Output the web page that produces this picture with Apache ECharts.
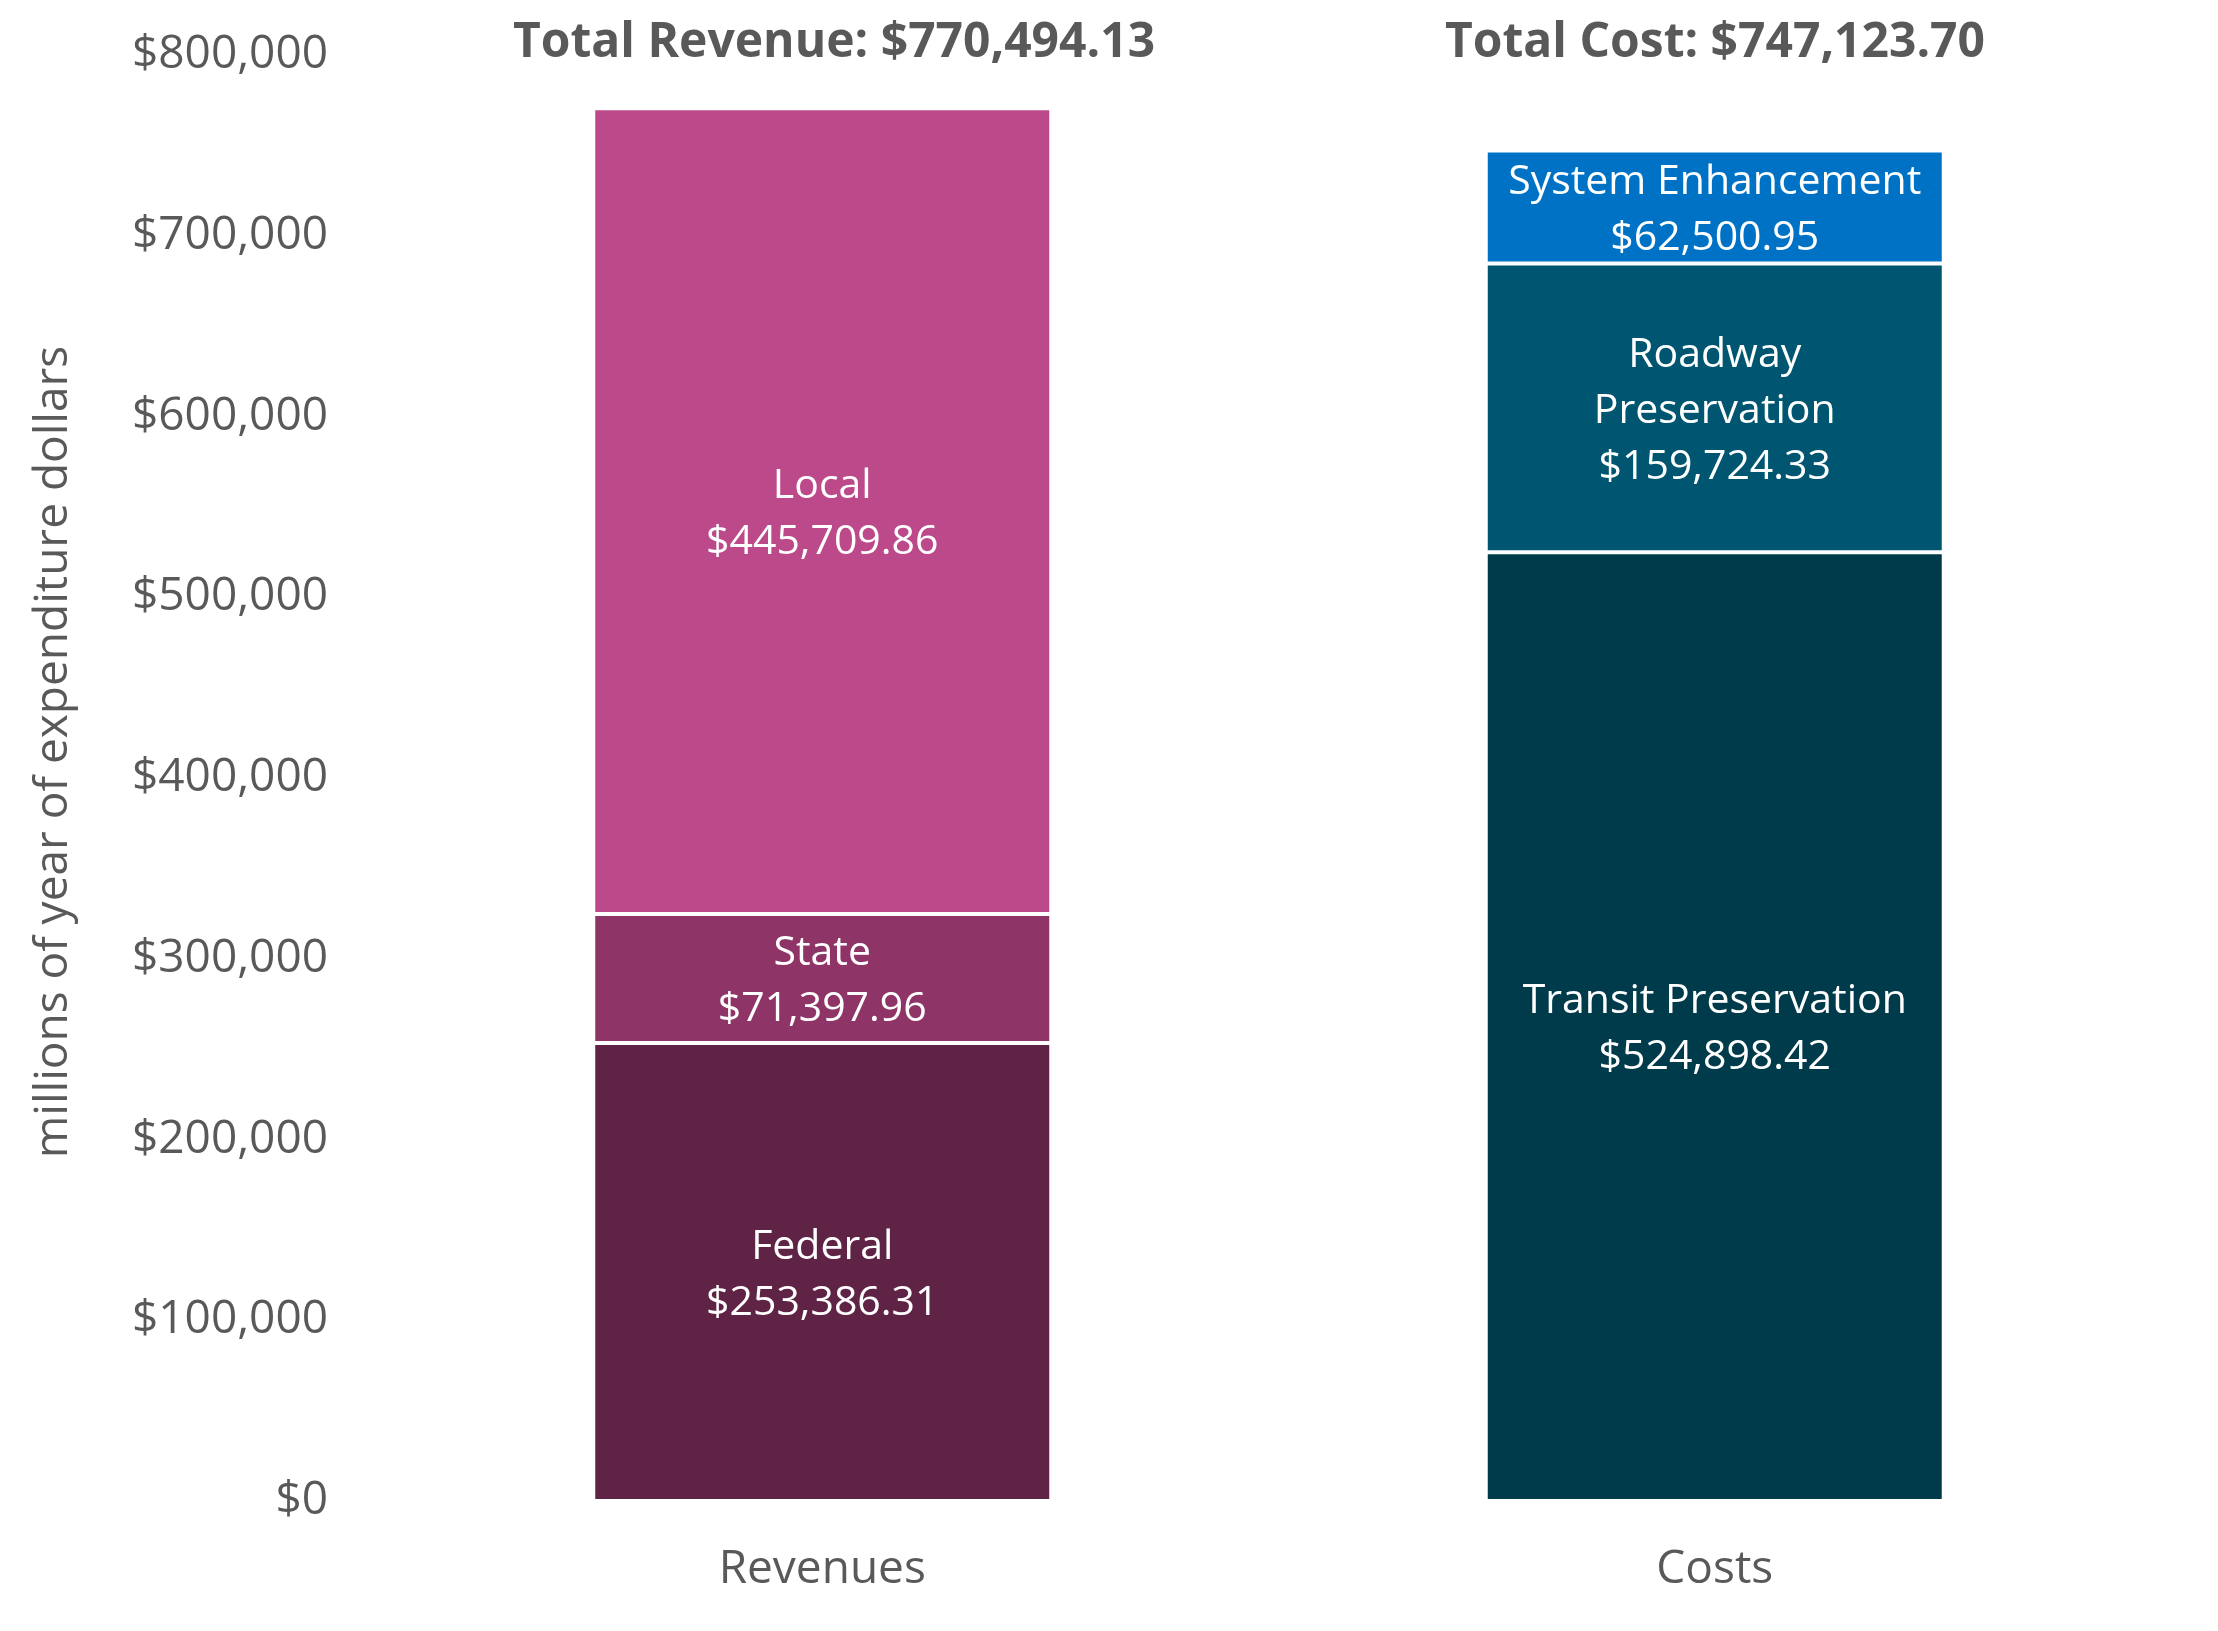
<!DOCTYPE html>
<html>
<head>
<meta charset="utf-8">
<title>Revenues and Costs</title>
<script src="https://cdn.jsdelivr.net/npm/echarts@6/dist/echarts.min.js"></script>
<style>
  html, body { margin: 0; padding: 0; background: #fff; }
  #chart { width: 2218px; height: 1631px; }
</style>
</head>
<body>
<div id="chart"></div>
<script>
// categories on the x axis
var categories = ['Revenues', 'Costs'];

// stacked segments, bottom to top
var federal = [253386.31, '-'];
var state = [71397.96, '-'];
var local = [445709.86, '-'];
var transitPreservation = ['-', 524898.42];
var roadwayPreservation = ['-', 159724.33];
var systemEnhancement = ['-', 62500.95];

// totals shown above each bar
var totalLabels = ['Total Revenue: $770,494.13', 'Total Cost: $747,123.70'];

var yTicks = [0, 100000, 200000, 300000, 400000, 500000, 600000, 700000, 800000];

function money(v, dec) {
  return '$' + Number(v).toLocaleString('en-US', {minimumFractionDigits: dec, maximumFractionDigits: dec});
}

var font = '"Open Sans", "Noto Sans", sans-serif';

function seg(name, label, color, data) {
  return {
    name: name,
    type: 'bar',
    stack: 'total',
    barWidth: 458,
    data: data,
    itemStyle: { color: color, borderColor: '#fff', borderWidth: 2 },
    label: {
      show: true,
      position: 'inside',
      offset: [0, 3],
      color: '#fff',
      fontFamily: font,
      fontSize: 41,
      lineHeight: 56,
      formatter: function (p) { return label + '\n' + money(p.value, 2); }
    },
    emphasis: { disabled: true }
  };
}

var chart = echarts.init(document.getElementById('chart'));
chart.setOption({
  animation: false,
  title: [
    { text: totalLabels[0], left: 829, top: 14, textAlign: 'center',
      textStyle: { fontFamily: font, fontWeight: 'bold', fontSize: 48, color: '#595959' } },
    { text: totalLabels[1], left: 1710, top: 14, textAlign: 'center',
      textStyle: { fontFamily: font, fontWeight: 'bold', fontSize: 48, color: '#595959' } }
  ],
  grid: { left: 376, right: 57, top: 55, bottom: 130, containLabel: false },
  xAxis: {
    type: 'category',
    data: categories,
    axisLine: { show: false },
    axisTick: { show: false },
    axisLabel: { color: '#595959', fontFamily: font, fontSize: 46, margin: 46 }
  },
  yAxis: {
    type: 'value',
    min: yTicks[0],
    max: yTicks[yTicks.length - 1],
    interval: 100000,
    splitLine: { show: false },
    axisLine: { show: false },
    axisTick: { show: false },
    axisLabel: {
      color: '#595959', fontFamily: font, fontSize: 46, margin: 48,
      formatter: function (v) { return money(v, 0); }
    }
  },
  graphic: [{
    type: 'text',
    x: 54, y: 752,
    rotation: Math.PI / 2,
    style: {
      text: 'millions of year of expenditure dollars',
      fill: '#595959',
      font: '46px "Open Sans", sans-serif',
      align: 'center',
      verticalAlign: 'middle'
    }
  }],
  series: [
    seg('Federal', 'Federal', '#5f2346', federal),
    seg('State', 'State', '#8e3466', state),
    seg('Local', 'Local', '#bc4a8a', local),
    seg('Transit Preservation', 'Transit Preservation', '#003b4c', transitPreservation),
    seg('Roadway Preservation', 'Roadway\nPreservation', '#005670', roadwayPreservation),
    seg('System Enhancement', 'System Enhancement', '#0072c6', systemEnhancement)
  ]
});
</script>
</body>
</html>
